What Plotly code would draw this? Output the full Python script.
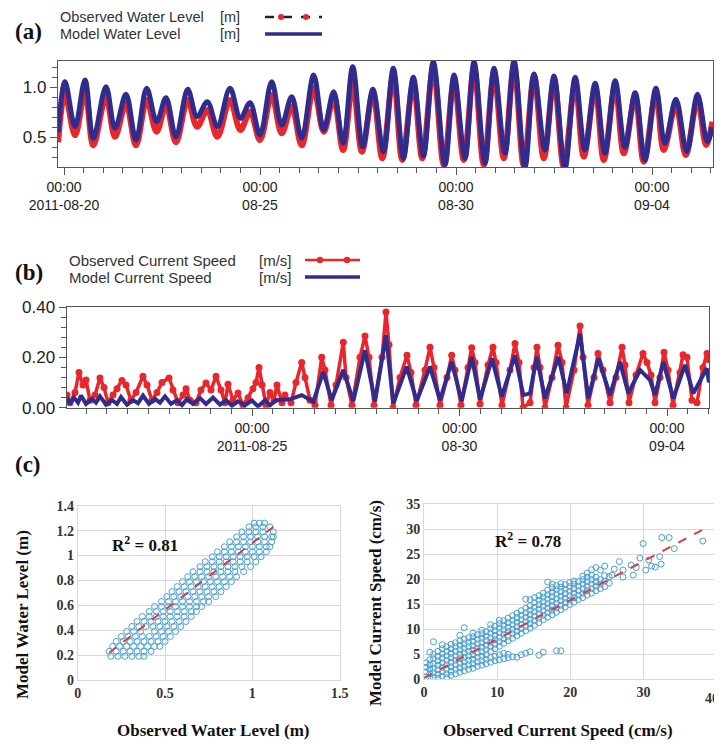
import numpy as np
import pandas as pd
import plotly.graph_objects as go

T0 = pd.Timestamp("2011-08-20")

# ---------------- (a) water level (days since 2011-08-20 00:00, m) ----------------
wl_model_days = [-0.15, 0.026, 0.281, 0.536, 0.748, 1.071, 1.301, 1.582, 1.837, 2.109, 2.364, 2.602, 2.857,
                 3.156, 3.395, 3.656, 3.912, 4.235, 4.5, 4.745, 5.0, 5.298, 5.553, 5.809, 6.064, 6.37, 6.625,
                 6.88, 7.12, 7.365, 7.62, 7.88, 8.15, 8.4, 8.66, 8.91, 9.17, 9.42, 9.72, 9.95, 10.23, 10.46,
                 10.74, 10.97, 11.25, 11.48, 11.76, 11.99, 12.27, 12.5, 12.78, 13.04, 13.29, 13.55, 13.8,
                 14.06, 14.31, 14.57, 14.82, 15.1, 15.33, 15.61, 15.89, 16.16, 16.41, 16.53]
wl_model = [0.55, 1.056, 0.607, 1.073, 0.49, 1.006, 0.59, 0.93, 0.473, 0.99, 0.656, 0.896, 0.506, 0.98,
            0.706, 0.856, 0.606, 0.99, 0.69, 0.846, 0.523, 1.056, 0.623, 0.906, 0.49, 1.123, 0.573, 0.956,
            0.44, 1.206, 0.406, 0.98, 0.356, 1.19, 0.29, 1.10, 0.313, 1.256, 0.223, 1.123, 0.29, 1.256,
            0.24, 1.19, 0.34, 1.266, 0.20, 1.133, 0.373, 1.113, 0.19, 1.10, 0.373, 1.04, 0.34, 1.066,
            0.40, 0.946, 0.273, 0.99, 0.44, 0.88, 0.356, 0.93, 0.456, 0.6]
wl_obs_days = [-0.15, 0.026, 0.281, 0.536, 0.748, 1.071, 1.301, 1.582, 1.837, 2.109, 2.364, 2.602, 2.857,
               3.156, 3.395, 3.656, 3.912, 4.235, 4.5, 4.745, 5.0, 5.298, 5.553, 5.809, 6.064, 6.37, 6.625,
               6.88, 7.12, 7.365, 7.6, 7.88, 8.12, 8.4, 8.63, 8.91, 9.14, 9.42, 9.69, 9.95, 10.2, 10.46,
               10.71, 10.97, 11.22, 11.48, 11.73, 11.99, 12.24, 12.5, 12.75, 13.04, 13.26, 13.55, 13.77,
               14.06, 14.28, 14.57, 14.79, 15.1, 15.3, 15.61, 15.86, 16.16, 16.38, 16.54]
wl_obs = [0.45, 0.94, 0.52, 0.956, 0.42, 0.906, 0.506, 0.84, 0.42, 0.873, 0.556, 0.823, 0.45, 0.873,
          0.606, 0.773, 0.506, 0.873, 0.573, 0.756, 0.473, 0.923, 0.54, 0.806, 0.42, 0.99, 0.556, 0.89,
          0.373, 1.04, 0.356, 0.94, 0.29, 1.12, 0.273, 1.04, 0.29, 1.19, 0.223, 1.06, 0.273, 1.19,
          0.223, 1.14, 0.29, 1.21, 0.215, 1.11, 0.29, 1.07, 0.206, 1.04, 0.306, 0.99, 0.273, 1.006,
          0.34, 0.906, 0.256, 0.94, 0.373, 0.823, 0.323, 0.873, 0.423, 0.656]

# ---------------- (b) current speed (days since 2011-08-20 00:00, m/s) ----------------
cs_model_days = [0.542, 0.614, 0.711, 0.807, 0.88, 1.0, 1.145, 1.241, 1.337, 1.482, 1.627, 1.747, 1.843,
                 1.988, 2.133, 2.253, 2.373, 2.518, 2.663, 2.783, 2.904, 3.048, 3.193, 3.313, 3.434, 3.578,
                 3.747, 3.892, 4.060, 4.229, 4.373, 4.518, 4.663, 4.831, 5.0, 5.145, 5.313, 5.434, 5.578,
                 5.675, 5.916, 6.198, 6.477, 6.718, 6.920, 7.200, 7.441, 7.723, 7.964, 8.229, 8.405, 8.728,
                 8.969, 9.289, 9.530, 9.812, 10.053, 10.294, 10.494, 10.783, 11.017, 11.337, 11.537, 11.699,
                 11.860, 12.060, 12.381, 12.583, 12.904, 13.104, 13.345, 13.627, 13.867, 14.067, 14.349,
                 14.590, 14.711, 14.911, 15.152, 15.434, 15.634, 15.957, 16.012]
cs_model = [0.04, 0.015, 0.04, 0.02, 0.048, 0.015, 0.035, 0.02, 0.045, 0.012, 0.03, 0.015, 0.042, 0.012,
            0.03, 0.018, 0.048, 0.015, 0.035, 0.02, 0.045, 0.015, 0.03, 0.01, 0.035, 0.015, 0.038, 0.015,
            0.04, 0.012, 0.03, 0.008, 0.025, 0.01, 0.028, 0.005, 0.03, 0.01, 0.03, 0.03, 0.033, 0.05,
            0.024, 0.142, 0.03, 0.15, 0.026, 0.228, 0.024, 0.288, 0.017, 0.163, 0.026, 0.163, 0.03,
            0.182, 0.026, 0.202, 0.033, 0.195, 0.044, 0.208, 0.05, 0.057, 0.202, 0.037, 0.202, 0.057,
            0.294, 0.037, 0.196, 0.05, 0.182, 0.057, 0.15, 0.11, 0.05, 0.182, 0.037, 0.17, 0.057, 0.156,
            0.1]
cs_obs_days = [0.542, 0.614, 0.735, 0.831, 0.928, 1.0, 1.096, 1.217, 1.337, 1.434,
               1.530, 1.651, 1.747, 1.867, 1.964, 2.084, 2.205, 2.373, 2.470, 2.590,
               2.711, 2.831, 3.0, 3.096, 3.217, 3.337, 3.410, 3.506, 3.651, 3.771,
               3.892, 4.012, 4.133, 4.253, 4.349, 4.422, 4.542, 4.663, 4.783, 4.904,
               5.024, 5.096, 5.169, 5.241, 5.337, 5.434, 5.530, 5.602, 5.723, 5.795,
               5.940, 6.060, 6.198, 6.277, 6.398, 6.518, 6.680, 6.759, 6.904, 7.024,
               7.200, 7.265, 7.410, 7.602, 7.723, 7.819, 7.940, 8.133, 8.229, 8.301,
               8.398, 8.566, 8.735, 8.831, 8.952, 9.169, 9.289, 9.386, 9.530, 9.699,
               9.812, 9.892, 10.036, 10.205, 10.294, 10.373, 10.494, 10.687, 10.807, 10.880,
               11.024, 11.217, 11.337, 11.434, 11.530, 11.699, 11.795, 11.867, 11.940, 12.060,
               12.229, 12.373, 12.470, 12.566, 12.759, 12.904, 12.976, 13.096, 13.241, 13.337,
               13.458, 13.627, 13.771, 13.916, 13.988, 14.084, 14.253, 14.422, 14.518, 14.614,
               14.711, 14.831, 14.928, 15.024, 15.145, 15.313, 15.386, 15.482, 15.602, 15.723,
               15.867, 15.964, 16.012]
cs_obs = [0.05, 0.02, 0.06, 0.14, 0.09, 0.11, 0.03, 0.05, 0.118, 0.08,
          0.02, 0.05, 0.075, 0.108, 0.09, 0.03, 0.06, 0.125, 0.09, 0.03,
          0.06, 0.10, 0.118, 0.07, 0.02, 0.05, 0.075, 0.03, 0.02, 0.07,
          0.098, 0.07, 0.125, 0.07, 0.02, 0.093, 0.03, 0.058, 0.01, 0.04,
          0.075, 0.10, 0.16, 0.09, 0.01, 0.06, 0.03, 0.09, 0.02, 0.05,
          0.02, 0.10, 0.18, 0.12, 0.03, 0.01, 0.20, 0.15, 0.01, 0.09,
          0.26, 0.12, 0.01, 0.20, 0.285, 0.20, 0.01, 0.20, 0.38, 0.25,
          0.0, 0.12, 0.208, 0.14, 0.01, 0.15, 0.24, 0.16, 0.01, 0.12,
          0.208, 0.15, 0.01, 0.16, 0.238, 0.18, 0.015, 0.17, 0.24, 0.18,
          0.01, 0.15, 0.255, 0.18, 0.0, 0.02, 0.16, 0.24, 0.16, 0.0,
          0.12, 0.248, 0.18, 0.0, 0.15, 0.325, 0.2, 0.01, 0.12, 0.215,
          0.15, 0.02, 0.12, 0.24, 0.17, 0.02, 0.13, 0.215, 0.18, 0.13,
          0.02, 0.12, 0.22, 0.15, 0.01, 0.14, 0.21, 0.2, 0.03, 0.02,
          0.16, 0.215, 0.19]

# ---------------- (c) scatter: water level rows (model value, [observed values]) ----------------
wl_scatter_rows = [
    (0.19, [0.19, 0.23, 0.27, 0.31, 0.35, 0.38]),
    (0.23, [0.18, 0.22, 0.26, 0.30, 0.34, 0.38, 0.42]),
    (0.27, [0.20, 0.24, 0.28, 0.32, 0.36, 0.40, 0.44, 0.47]),
    (0.31, [0.22, 0.26, 0.30, 0.34, 0.38, 0.42, 0.46, 0.50]),
    (0.35, [0.25, 0.29, 0.33, 0.37, 0.41, 0.45, 0.49, 0.53]),
    (0.39, [0.28, 0.32, 0.36, 0.44, 0.48, 0.52, 0.56]),
    (0.43, [0.31, 0.35, 0.39, 0.43, 0.47, 0.51, 0.55, 0.59]),
    (0.47, [0.34, 0.38, 0.42, 0.46, 0.50, 0.54, 0.58, 0.62]),
    (0.51, [0.37, 0.41, 0.45, 0.49, 0.53, 0.57, 0.61, 0.65]),
    (0.55, [0.41, 0.45, 0.49, 0.53, 0.57, 0.61, 0.65, 0.68]),
    (0.59, [0.44, 0.48, 0.52, 0.56, 0.60, 0.64, 0.68, 0.71]),
    (0.63, [0.48, 0.52, 0.56, 0.60, 0.64, 0.68, 0.72, 0.75]),
    (0.67, [0.51, 0.55, 0.59, 0.63, 0.67, 0.71, 0.75, 0.79]),
    (0.71, [0.54, 0.58, 0.62, 0.66, 0.70, 0.74, 0.78, 0.82]),
    (0.75, [0.57, 0.61, 0.65, 0.69, 0.73, 0.77, 0.81, 0.85]),
    (0.79, [0.60, 0.64, 0.68, 0.72, 0.76, 0.80, 0.84, 0.88]),
    (0.83, [0.63, 0.67, 0.71, 0.75, 0.79, 0.83, 0.87, 0.91]),
    (0.87, [0.66, 0.70, 0.74, 0.78, 0.82, 0.86, 0.90, 0.95]),
    (0.91, [0.70, 0.74, 0.78, 0.82, 0.86, 0.90, 0.94, 0.99]),
    (0.95, [0.73, 0.77, 0.81, 0.85, 0.89, 0.93, 0.97, 1.02]),
    (0.99, [0.77, 0.81, 0.85, 0.89, 0.93, 0.97, 1.01, 1.05]),
    (1.03, [0.80, 0.84, 0.88, 0.92, 0.96, 1.00, 1.04, 1.08]),
    (1.07, [0.84, 0.88, 0.92, 0.96, 1.00, 1.04, 1.08, 1.10]),
    (1.11, [0.87, 0.91, 0.95, 0.99, 1.03, 1.07, 1.11]),
    (1.15, [0.91, 0.95, 0.99, 1.03, 1.07, 1.11, 1.12]),
    (1.19, [0.94, 0.98, 1.02, 1.06, 1.12]),
    (1.23, [0.98, 1.02, 1.06, 1.10]),
    (1.26, [1.01, 1.04, 1.07]),
]
wl_fit_x = [0.18, 1.12]
wl_fit_y = [0.22, 1.23]

# current speed rows (observed value, [model values]) in cm/s
cs_scatter_rows = [
    (0.3, [0.5, 1.5, 2.4, 3.3]),
    (0.8, [0.2, 1.1, 2.0, 2.9, 3.9, 5.4]),
    (1.3, [0.4, 1.3, 2.2, 3.1, 4.1, 5.0, 7.5]),
    (1.9, [0.2, 1.0, 1.9, 2.8, 3.7, 4.6, 5.6]),
    (2.5, [0.6, 1.5, 2.4, 3.3, 4.2, 5.1, 6.1, 6.9]),
    (3.1, [0.3, 1.1, 2.0, 2.9, 3.8, 4.7, 5.6, 6.5]),
    (3.7, [0.8, 1.6, 2.5, 3.4, 4.3, 5.2, 6.1, 7.0]),
    (4.3, [1.1, 2.0, 2.9, 3.8, 4.7, 5.6, 6.5, 7.3]),
    (4.9, [1.4, 2.3, 3.2, 4.1, 5.0, 5.9, 6.8, 7.7, 8.8]),
    (5.5, [1.7, 2.6, 3.5, 4.4, 5.3, 6.2, 7.1, 8.0, 10.3]),
    (6.1, [2.0, 2.9, 3.8, 4.7, 5.6, 6.5, 7.4, 8.3]),
    (6.7, [2.2, 3.1, 4.0, 4.9, 5.8, 6.7, 7.6, 8.5, 9.2]),
    (7.3, [2.6, 3.5, 4.4, 5.3, 6.2, 7.1, 8.0, 8.9]),
    (7.9, [2.8, 3.7, 4.6, 5.5, 6.4, 7.3, 8.2, 9.1, 9.8]),
    (8.5, [3.1, 4.0, 4.9, 5.9, 6.8, 7.7, 8.6, 9.5]),
    (9.1, [3.4, 4.3, 5.6, 6.5, 7.4, 8.3, 9.2, 10.1, 10.9]),
    (9.7, [3.7, 4.6, 6.1, 7.0, 7.9, 8.8, 9.7, 10.6]),
    (10.3, [3.9, 4.9, 6.6, 7.5, 8.4, 9.3, 10.2, 11.1, 11.8]),
    (10.9, [4.1, 5.2, 7.2, 8.1, 9.0, 9.9, 10.8, 11.7]),
    (11.5, [4.3, 5.0, 7.7, 8.6, 9.5, 10.4, 11.3, 12.2]),
    (12.1, [4.5, 8.2, 9.1, 10.0, 10.9, 11.8, 12.7]),
    (12.7, [4.4, 8.7, 9.6, 10.5, 11.4, 12.3, 13.2]),
    (13.3, [4.9, 9.2, 10.1, 11.0, 11.9, 12.8, 13.7]),
    (13.9, [5.2, 9.7, 10.6, 11.5, 12.4, 13.3, 14.2, 16.0]),
    (14.5, [5.5, 10.2, 11.1, 12.0, 12.9, 13.8, 14.7, 15.9]),
    (15.1, [10.8, 11.7, 12.6, 13.5, 14.4, 15.3, 16.3]),
    (15.7, [4.8, 11.3, 12.2, 13.1, 14.0, 14.9, 15.8, 16.7]),
    (16.3, [5.4, 11.9, 12.8, 13.7, 14.6, 15.5, 16.4, 17.2]),
    (16.9, [12.4, 13.3, 14.2, 15.1, 16.0, 16.9, 17.8, 19.4]),
    (17.5, [12.9, 13.8, 14.7, 15.6, 16.5, 17.4, 18.3, 19.0]),
    (18.1, [5.7, 13.4, 14.3, 15.2, 16.1, 17.0, 17.9, 18.7]),
    (18.7, [5.7, 13.9, 14.8, 15.7, 16.6, 17.5, 18.4, 19.1]),
    (19.3, [14.4, 15.3, 16.2, 17.1, 18.0, 18.9]),
    (19.9, [14.9, 15.8, 16.7, 17.6, 18.5, 19.3]),
    (20.5, [15.4, 16.3, 17.2, 18.1, 19.0, 19.6]),
    (21.1, [15.9, 16.8, 17.7, 18.6, 19.5]),
    (21.7, [16.3, 17.2, 18.1, 19.0, 19.9, 20.6]),
    (22.3, [16.8, 17.7, 18.6, 19.5, 20.4, 21.2]),
    (22.9, [17.2, 18.1, 19.0, 19.9, 20.8, 21.9]),
    (23.5, [17.7, 18.6, 19.5, 20.4, 22.3]),
    (24.1, [18.1, 19.0, 19.9, 21.8]),
    (24.7, [18.5, 19.6, 20.7, 22.6]),
    (25.3, [19.2, 20.5]),
]
cs_extra_obs = [26.0, 26.7, 27.2, 27.2, 28.3, 28.6, 29.0, 29.5, 29.95, 30.3, 30.7, 31.1, 31.6, 32.2,
                32.4, 32.5, 33.5, 34.2, 38.1, 25.7]
cs_extra_mod = [22.0, 23.5, 21.8, 20.4, 22.8, 20.8, 22.3, 24.2, 27.1, 21.8, 23.8, 22.6, 22.4, 24.5,
                23.0, 28.3, 28.3, 26.1, 27.6, 20.8]
cs_fit_x = [0.0, 38.0]
cs_fit_y = [0.3, 29.8]

# ---------------- helpers ----------------
W, H = 722, 744
OFF = 8   # the page body keeps an 8 px margin around the figure
FW, FH = W - OFF, H - OFF
def px(x):
    return (x - OFF) / FW
def py(y):
    return 1 - (y - OFF) / FH
def to_time(days):
    return T0 + pd.to_timedelta(np.array(days, dtype=float), unit="D")

RED = "#e8262b"
NAVY = "#2f2c8e"
SBLUE = "#4a9fcf"
GRID = "#d9d9d9"
SANS = "Liberation Sans, Arial, sans-serif"
SERIF = "Liberation Serif, Times New Roman, serif"

wl_sx = [x for y, xs in wl_scatter_rows for x in xs]
wl_sy = [y for y, xs in wl_scatter_rows for x in xs]
cs_sx = [x for x, ys in cs_scatter_rows for y in ys] + cs_extra_obs
cs_sy = [y for x, ys in cs_scatter_rows for y in ys] + cs_extra_mod

fig = go.Figure()
fig.add_trace(go.Scatter(x=to_time(wl_obs_days), y=wl_obs, mode="lines",
                         line=dict(color=RED, width=6, shape="spline"), xaxis="x", yaxis="y"))
fig.add_trace(go.Scatter(x=to_time(wl_model_days), y=wl_model, mode="lines",
                         line=dict(color=NAVY, width=5, shape="spline"), xaxis="x", yaxis="y"))
fig.add_trace(go.Scatter(x=to_time(cs_obs_days), y=cs_obs, mode="lines+markers",
                         line=dict(color=RED, width=3.5), marker=dict(color=RED, size=7),
                         xaxis="x2", yaxis="y2"))
fig.add_trace(go.Scatter(x=to_time(cs_model_days), y=cs_model, mode="lines",
                         line=dict(color=NAVY, width=4), xaxis="x2", yaxis="y2"))
fig.add_trace(go.Scatter(x=wl_sx, y=wl_sy, mode="markers",
                         marker=dict(symbol="circle-open", size=6, color=SBLUE, line=dict(width=1)),
                         xaxis="x3", yaxis="y3"))
fig.add_trace(go.Scatter(x=wl_fit_x, y=wl_fit_y, mode="lines",
                         line=dict(color="#d8343c", width=1.8, dash="dash"), xaxis="x3", yaxis="y3"))
fig.add_trace(go.Scatter(x=cs_sx, y=cs_sy, mode="markers",
                         marker=dict(symbol="circle-open", size=6, color=SBLUE, line=dict(width=1)),
                         xaxis="x4", yaxis="y4"))
fig.add_trace(go.Scatter(x=cs_fit_x, y=cs_fit_y, mode="lines",
                         line=dict(color="#e0393e", width=2, dash="dash"), xaxis="x4", yaxis="y4"))

frame = dict(showline=True, linecolor="#555", linewidth=1.2, mirror=True, showgrid=False, zeroline=False,
             ticks="outside", ticklen=7, tickcolor="#555", automargin=False)
major_days = ["2011-08-20", "2011-08-25", "2011-08-30", "2011-09-04"]
minor_t = dict(dtick=43200000, tick0="2011-08-20", ticklen=5, tickcolor="#555", ticks="outside", showgrid=False)
sfont = dict(family=SERIF, size=14, color="#333", weight="bold")
sgrid = dict(showgrid=True, gridcolor=GRID, zeroline=False, showline=True, linecolor=GRID, mirror=True,
             ticks="", automargin=False, tickfont=sfont)

fig.update_layout(
    width=FW, height=FH, margin=dict(l=0, r=0, t=0, b=0, autoexpand=False), showlegend=False,
    paper_bgcolor="white", plot_bgcolor="white",
    xaxis=dict(domain=[px(58), px(713)], anchor="y", type="date",
               range=[to_time([-0.153])[0], to_time([16.556])[0]],
               tickvals=major_days,
               ticktext=["00:00<br>2011-08-20", "00:00<br>08-25", "00:00<br>08-30", "00:00<br>09-04"],
               tickfont=dict(family=SANS, size=14, color="#222"), minor=minor_t, **frame),
    yaxis=dict(domain=[py(167), py(61)], anchor="x", range=[0.203, 1.263],
               tickvals=[0.5, 1.0], ticktext=["0.5", "1.0"],
               tickfont=dict(family=SANS, size=17, color="#222"),
               minor=dict(dtick=0.1, tick0=0, ticklen=5, tickcolor="#555", ticks="outside"), **frame),
    xaxis2=dict(domain=[px(66.7), px(709)], anchor="y2", type="date",
                range=[to_time([0.535])[0], to_time([16.012])[0]],
                tickvals=major_days[1:],
                ticktext=["00:00<br>2011-08-25", "00:00<br>08-30", "00:00<br>09-04"],
                tickfont=dict(family=SANS, size=14, color="#222"), minor=minor_t, **frame),
    yaxis2=dict(domain=[py(407.7), py(307)], anchor="x2", range=[0, 0.40],
                tickvals=[0, 0.2, 0.4], ticktext=["0.00", "0.20", "0.40"],
                tickfont=dict(family=SANS, size=17, color="#222"),
                minor=dict(dtick=0.04, tick0=0, ticklen=5, tickcolor="#555", ticks="outside"), **frame),
    xaxis3=dict(domain=[px(77.7), px(339.7)], anchor="y3", range=[0, 1.5], tickvals=[0, 0.5, 1, 1.5],
                ticktext=["0", "0.5", "1", "1.5"], **sgrid),
    yaxis3=dict(domain=[py(680), py(505.7)], anchor="x3", range=[0, 1.4],
                tickvals=[0, 0.2, 0.4, 0.6, 0.8, 1.0, 1.2, 1.4],
                ticktext=["0", "0.2", "0.4", "0.6", "0.8", "1", "1.2", "1.4"], **sgrid),
    xaxis4=dict(domain=[px(424), px(716.7)], anchor="y4", range=[0, 40], tickvals=[0, 10, 20, 30, 40],
                **sgrid),
    yaxis4=dict(domain=[py(679.3), py(504)], anchor="x4", range=[0, 35],
                tickvals=[0, 5, 10, 15, 20, 25, 30, 35], **sgrid),
)

ann = []
def text(x, y, s, size, family=SANS, xanchor="left", angle=0, color="#333", bold=False):
    ann.append(dict(x=px(x), y=py(y), xref="paper", yref="paper", text=s, showarrow=False,
                    xanchor=xanchor, yanchor="middle", textangle=angle,
                    font=dict(family=family, size=size, color=color, weight="bold" if bold else "normal")))

# panel labels
text(28, 31, "(a)", 23, SERIF, "center", color="#111", bold=True)
text(29, 272, "(b)", 23, SERIF, "center", color="#111", bold=True)
text(28, 464, "(c)", 23, SERIF, "center", color="#111", bold=True)
# legend (a)
text(58, 17, "Observed Water Level", 14.5)
text(218, 17, "[m]", 14.5)
text(58, 34, "Model Water Level", 14.5)
text(218, 34, "[m]", 14.5)
# legend (b)
text(66.7, 260, "Observed Current Speed", 15)
text(256.7, 260, "[m/s]", 15)
text(66.7, 277, "Model Current Speed", 15)
text(256.7, 277, "[m/s]", 15)
# scatter texts
text(145, 544, "R<sup>2</sup> = 0.81", 17, SERIF, "center", color="#111", bold=True)
text(528, 540, "R<sup>2</sup> = 0.78", 17, SERIF, "center", color="#111", bold=True)
text(213.5, 730, "Observed Water Level (m)", 17, SERIF, "center", color="#111", bold=True)
text(557.5, 730, "Observed Current Speed (cm/s)", 17, SERIF, "center", color="#111", bold=True)
text(22, 615, "Model Water Level (m)", 17, SERIF, "center", angle=-90, color="#111", bold=True)
text(375, 603, "Model Current Speed (cm/s)", 17, SERIF, "center", angle=-90, color="#111", bold=True)
# last x tick label of the current-speed scatter, kept inside the right edge
ann.append(dict(x=px(721), y=py(698), xref="paper", yref="paper", text="40", showarrow=False,
                xanchor="right", yanchor="middle", font=sfont))
fig.update_layout(annotations=ann)

# legend symbols (decorations in paper coordinates)
shapes = []
def seg(x0, x1, y, color, width, dash="solid"):
    shapes.append(dict(type="line", xref="paper", yref="paper", x0=px(x0), x1=px(x1), y0=py(y), y1=py(y),
                       line=dict(color=color, width=width, dash=dash)))
def dot(x, y, r, color):
    shapes.append(dict(type="circle", xref="paper", yref="paper", x0=px(x - r), x1=px(x + r),
                       y0=py(y + r), y1=py(y - r), fillcolor=color, line=dict(width=0)))
seg(265, 322, 17, "#222", 2.5, "dash")
dot(281, 17, 3, RED)
dot(306, 17, 3, RED)
seg(265, 322, 34, NAVY, 3.5)
seg(305, 360, 260, RED, 2.5)
dot(320, 260, 3.2, RED)
dot(347, 260, 3.2, RED)
seg(305, 360, 277, NAVY, 3.5)
fig.update_layout(shapes=shapes)

fig.write_html("out.html")
